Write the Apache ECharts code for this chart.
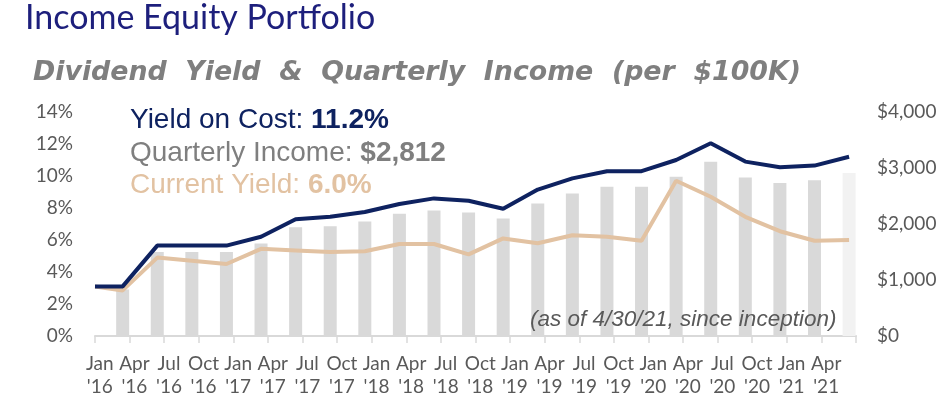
<!DOCTYPE html>
<html>
<head>
    <meta charset="utf-8">
    <title>Income Equity Portfolio</title>
    <style>
        html, body { margin: 0; padding: 0; background: #fff; }
    </style>
</head>
<body>
<script src="https://cdn.jsdelivr.net/npm/echarts@6/dist/echarts.min.js" type="text/javascript" charset="utf-8"></script>
<div id="main" style="width: 944px;height:405px;"></div>
<script type="text/javascript">
    // quarter labels on the x axis
    var periods = ["Jan\n'16", "Apr\n'16", "Jul\n'16", "Oct\n'16", "Jan\n'17", "Apr\n'17", "Jul\n'17", "Oct\n'17",
        "Jan\n'18", "Apr\n'18", "Jul\n'18", "Oct\n'18", "Jan\n'19", "Apr\n'19", "Jul\n'19", "Oct\n'19",
        "Jan\n'20", "Apr\n'20", "Jul\n'20", "Oct\n'20", "Jan\n'21", "Apr\n'21"];

    // quarterly income per $100K (last one is the partial quarter)
    var quarterlyIncome = [830, 1500, 1500, 1500, 1650, 1940, 1960, 2045, 2185, 2240, 2205,
        2100, 2365, 2545, 2665, 2665, 2845, 3110, 2830, 2730, 2780, 2910];

    // yields: first value is inception, then one per quarter
    var yieldOnCost = [3.1, 3.1, 5.65, 5.65, 5.65, 6.2, 7.3, 7.45, 7.75, 8.25, 8.6, 8.45,
        7.95, 9.15, 9.85, 10.3, 10.3, 11.0, 12.05, 10.9, 10.55, 10.65, 11.2];
    var currentYield = [3.1, 2.85, 4.9, 4.7, 4.5, 5.45, 5.35, 5.25, 5.3, 5.75, 5.75, 5.1,
        6.1, 5.8, 6.3, 6.2, 5.95, 9.7, 8.7, 7.45, 6.55, 5.95, 6.0];

    var leftTicks = { min: 0, max: 14, step: 2 };
    var rightTicks = { min: 0, max: 4000, step: 1000 };

    var barPos = 0.8; // bars sit toward the right side of each quarter
    var labelFont = 'Lato, "Open Sans", sans-serif';
    var textFont = '"Liberation Sans", Arial, sans-serif';

    var barData = quarterlyIncome.map(function (v, i) {
        var item = { value: [i + barPos, v] };
        if (i === quarterlyIncome.length - 1) {
            item.itemStyle = { color: '#f2f2f2' };
        }
        return item;
    });
    function linePoints(arr) {
        return arr.map(function (v, i) {
            return [i === 0 ? 0 : i - 1 + barPos, v];
        });
    }
    function legendLine(label, value, color, top) {
        return {
            type: 'text', left: 130, top: top,
            style: {
                text: '{a|' + label + '}{b|' + value + '}',
                rich: {
                    a: { font: '28px ' + textFont, fill: color },
                    b: { font: 'bold 28px ' + textFont, fill: color }
                }
            }
        };
    }

    var myChart = echarts.init(document.getElementById('main'));

    var option = {
        animation: false,
        grid: { left: 95, right: 88, top: 112, bottom: 69 },
        graphic: [
            {
                type: 'text', left: 25, top: 1,
                style: { text: 'Income Equity Portfolio', font: '34px ' + labelFont, fill: '#1d1f7c' }
            },
            {
                type: 'text', left: 33, top: 60,
                style: {
                    text: 'Dividend  Yield  &  Quarterly  Income  (per  $100K)',
                    font: 'italic bold 26.8px "DejaVu Sans", sans-serif', fill: '#7f7f7f'
                }
            },
            legendLine('Yield on Cost: ', '11.2%', '#0e2260', 106),
            legendLine('Quarterly Income: ', '$2,812', '#7f7f7f', 139),
            legendLine('Current Yield: ', '6.0%', '#e2c2a2', 171),
            {
                type: 'text', left: 530, top: 308,
                style: {
                    text: '(as of 4/30/21, since inception)',
                    font: 'italic 22.5px ' + textFont, fill: '#595959'
                },
                z: 10
            }
        ],
        xAxis: [
            {
                type: 'category',
                data: periods,
                boundaryGap: true,
                axisLine: { show: true, lineStyle: { color: '#d9d9d9', width: 2 } },
                axisTick: { show: true, length: 7, lineStyle: { color: '#d9d9d9', width: 1.5 } },
                splitLine: { show: false },
                axisLabel: {
                    interval: 0,
                    fontFamily: labelFont,
                    fontSize: 19,
                    lineHeight: 23,
                    color: '#595959',
                    margin: 16,
                    padding: [0, 25, 0, 0]
                }
            },
            {
                type: 'value',
                min: 0,
                max: periods.length,
                show: false
            }
        ],
        yAxis: [
            {
                type: 'value',
                min: leftTicks.min, max: leftTicks.max, interval: leftTicks.step,
                axisLine: { show: false },
                axisTick: { show: false },
                splitLine: { show: false },
                axisLabel: {
                    formatter: '{value}%',
                    fontFamily: labelFont, fontSize: 19, color: '#595959', margin: 22
                }
            },
            {
                type: 'value',
                min: rightTicks.min, max: rightTicks.max, interval: rightTicks.step,
                position: 'right',
                axisLine: { show: false },
                axisTick: { show: false },
                splitLine: { show: false },
                axisLabel: {
                    formatter: function (v) { return '$' + v.toLocaleString('en-US'); },
                    fontFamily: labelFont, fontSize: 19, color: '#595959', margin: 21
                }
            }
        ],
        series: [
            {
                name: 'Quarterly Income',
                type: 'bar',
                xAxisIndex: 1,
                yAxisIndex: 1,
                barWidth: 13,
                itemStyle: { color: '#d9d9d9' },
                data: barData
            },
            {
                name: 'Current Yield',
                type: 'line',
                xAxisIndex: 1,
                yAxisIndex: 0,
                symbol: 'none',
                lineStyle: { color: '#e2c2a2', width: 4 },
                data: linePoints(currentYield)
            },
            {
                name: 'Yield on Cost',
                type: 'line',
                xAxisIndex: 1,
                yAxisIndex: 0,
                symbol: 'none',
                lineStyle: { color: '#0e2260', width: 4 },
                data: linePoints(yieldOnCost)
            }
        ]
    };

    myChart.setOption(option);
</script>
</body>
</html>
